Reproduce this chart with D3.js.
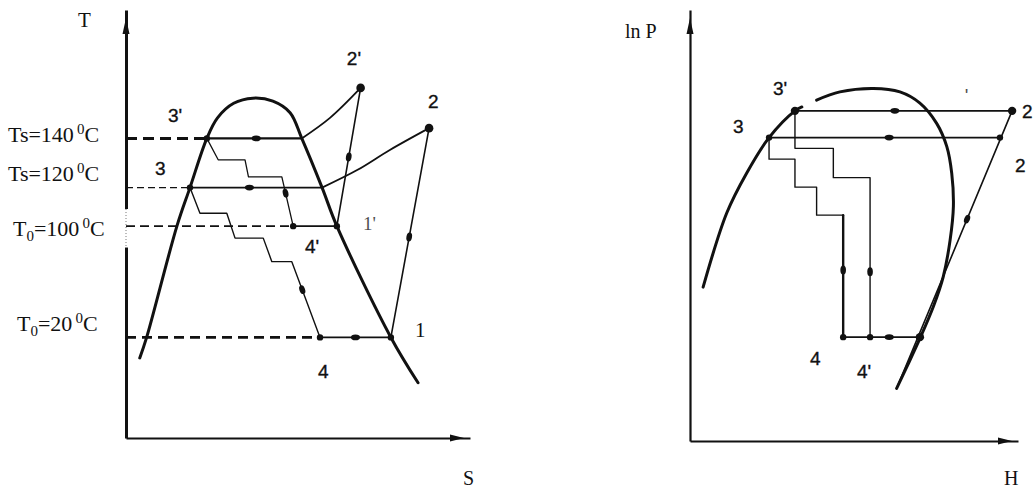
<!DOCTYPE html>
<html>
<head>
<meta charset="utf-8">
<script src="https://cdn.jsdelivr.net/npm/d3@7"></script>
<style>
  body { margin: 0; background: #fff; }
  svg { display: block; }
  text { fill: #111; }
</style>
</head>
<body>
<div id="chart"></div>
<script>
// ---- T-S diagram (schematic units 0..100 on both axes) ----
const tsLevels = [70, 58.5, 49.5, 23.5];
const tsLevelNames = [["Ts", "140"], ["Ts", "120"], ["T0", "100"], ["T0", "20"]];
const tsDashEnds = [23.5, 18.6, 48.6, 56.4];
const tsDome = [[4, 18.7], [6, 23.5], [14.8, 49.5], [18.6, 58.5], [23.5, 70], [26.6, 74.8], [31.3, 78.2],
  [36.9, 79.4], [42.7, 78.7], [47.7, 76.0], [51.1, 70], [57, 58.5], [61.3, 49.5], [77, 23.5], [84.9, 12.9]];
const tsSuper2p = [[51.1, 70], [59.3, 74.8], [68.2, 81.8]];
const tsSuper2 = [[57, 58.5], [67.2, 62.6], [76.7, 67.3], [88.1, 72.4]];
const tsComp = [[[61.3, 49.5], [68.2, 81.8]], [[77, 23.5], [88.1, 72.4]]];
const tsIso = [[[23.5, 70], [51.1, 70]], [[18.6, 58.5], [57, 58.5]], [[48.6, 49.5], [61.3, 49.5]], [[56.4, 23.5], [77, 23.5]]];
const tsStair3p = [[23.5, 70], [26.8, 65], [34.6, 65], [35.6, 61], [45.3, 61], [48.6, 49.5]];
const tsStair3 = [[18.6, 58.5], [21.5, 52.5], [29.3, 52.5], [31.7, 46.7], [39.9, 46.7], [42.4, 41.2], [48.2, 41.2], [56.4, 23.5]];
const tsPoints = [[23.5, 70], [18.6, 58.5], [77, 23.5], [56.4, 23.5], [48.6, 49.5], [61.3, 49.5]];
const tsEnds = [[68.2, 81.8], [88.1, 72.4]];
// arrow beads: segment start, segment end, fraction along it
const tsMarks = [
  [[23.5, 70], [51.1, 70], 0.52], [[18.6, 58.5], [57, 58.5], 0.45], [[56.4, 23.5], [77, 23.5], 0.5],
  [[61.3, 49.5], [68.2, 81.8], 0.5], [[77, 23.5], [88.1, 72.4], 0.48],
  [[45.3, 61], [48.6, 49.5], 0.33], [[48.2, 41.2], [56.4, 23.5], 0.37]];
const tsLabels = [
  { t: "2'", u: 64.2, v: 87.1 }, { t: "2", u: 87.8, v: 77.1 }, { t: "3'", u: 12.2, v: 73.8 },
  { t: "3", u: 8.4, v: 61.4 }, { t: "4'", u: 52.0, v: 43.2 }, { t: "4", u: 55.8, v: 14.0 },
  { t: "1'", u: 68.9, v: 48.6 }];

// ---- lnP-H diagram ----
const phLevels = [76.6, 70.4, 24.1];
const phLiquid = [[4, 35.7], [11.2, 52.9], [17.3, 62.2], [24.1, 70.4], [32, 76.6], [34.1, 77.5]];
const phVapor = [[38.6, 79.1], [45.7, 81.0], [55.9, 81.8], [64, 81], [70.1, 78.4], [75.2, 73.7], [78.3, 68.3],
  [79.8, 62.1], [80.3, 54.4], [79.3, 46.6], [77.2, 38.1], [74.2, 31.2], [70.1, 23.8], [66.1, 17.2], [63, 12.2]];
const phComp = [[63, 12.2], [98.2, 76.6]];
const phIso = [[[32, 76.6], [98.2, 76.6]], [[24.1, 70.4], [94.5, 70.4]], [[46.7, 24.1], [70.1, 24.1]]];
const phStair3p = [[32, 76.6], [32, 67.9], [43.7, 67.9], [43.7, 61.1], [54.9, 61.1], [54.9, 24.1]];
const phStair3 = [[24.1, 70.4], [24.1, 65.4], [32, 65.4], [32, 58.9], [38.6, 58.9], [38.6, 52.4], [46.7, 52.4], [46.7, 24.1]];
const phPoints = [[24.1, 70.4], [94.5, 70.4], [46.7, 24.1], [54.9, 24.1]];
const phEnds = [[32, 76.6], [98.2, 76.6], [70.1, 24.1]];
const phMarks = [
  [[32, 76.6], [98.2, 76.6], 0.46], [[24.1, 70.4], [94.5, 70.4], 0.52], [[46.7, 24.1], [70.1, 24.1], 0.6],
  [[63, 12.2], [98.2, 76.6], 0.61], [[54.9, 61.1], [54.9, 24.1], 0.59], [[46.7, 52.4], [46.7, 24.1], 0.45]];
const phLabels = [
  { t: "3'", u: 25.3, v: 80.3 }, { t: "3", u: 13.1, v: 71.5 }, { t: "2", u: 101.2, v: 74.9 },
  { t: "2", u: 99.1, v: 62.4 }, { t: "4", u: 36.6, v: 17.6 }, { t: "4'", u: 50.9, v: 14.6 },
  { t: "'", u: 83.8, v: 78.7 }];

const W = 1035, H = 491;
const serif = "'Liberation Serif', 'Times New Roman', serif";
const sans = "'Liberation Sans', Arial, sans-serif";

const svg = d3.select('#chart').append('svg').attr('width', W).attr('height', H);

const xL = d3.scaleLinear().domain([0, 100]).range([126, 470]);
const yL = d3.scaleLinear().domain([0, 100]).range([438, 10]);
const xR = d3.scaleLinear().domain([0, 100]).range([690, 1018]);
const yR = d3.scaleLinear().domain([0, 100]).range([441, 10]);

function path(g, pts, x, y, w, curve) {
  const line = d3.line().x(d => x(d[0])).y(d => y(d[1])).curve(curve || d3.curveLinear);
  return g.append('path').attr('d', line(pts)).attr('fill', 'none')
    .attr('stroke', '#111').attr('stroke-width', w)
    .attr('stroke-linejoin', 'round').attr('stroke-linecap', 'round');
}

function bead(g, x, y, m) {
  const [p, q, t] = m;
  const x1 = x(p[0]), y1 = y(p[1]), x2 = x(q[0]), y2 = y(q[1]);
  const cx = x1 + (x2 - x1) * t, cy = y1 + (y2 - y1) * t;
  const ang = Math.atan2(y2 - y1, x2 - x1) * 180 / Math.PI;
  g.append('ellipse').attr('cx', cx).attr('cy', cy).attr('rx', 4.5).attr('ry', 2.8)
    .attr('transform', `rotate(${ang},${cx},${cy})`).attr('fill', '#111');
}

function axes(g, x, y, wy, wx) {
  const ax = g.append('g').attr('transform', `translate(0,${y(0)})`)
    .call(d3.axisBottom(x).tickValues([]).tickSizeOuter(0));
  ax.select('.domain').attr('stroke', '#111').attr('stroke-width', wx);
  const ay = g.append('g').attr('transform', `translate(${x(0)},0)`)
    .call(d3.axisLeft(y).tickValues([]).tickSizeOuter(0));
  ay.select('.domain').attr('stroke', '#111').attr('stroke-width', wy);
  // arrow heads
  const x0 = x(0), yTop = y(100), y0 = y(0), xEnd = x(100);
  g.append('path').attr('d', `M${x0},${yTop + 8} L${x0 - 3.5},${yTop + 24} L${x0 + 3.5},${yTop + 24} Z`).attr('fill', '#111');
  g.append('path').attr('d', `M${xEnd - 6},${y0} L${xEnd - 20},${y0 - 3.5} L${xEnd - 20},${y0 + 3.5} Z`).attr('fill', '#111');
}

function labels(g, arr, x, y, size) {
  arr.forEach(d => {
    const faint = d.t === "1'" || d.t === "'";
    g.append('text').attr('x', x(d.u)).attr('y', y(d.v))
      .attr('font-family', d.t === "1'" ? serif : sans).attr('font-size', size)
      .attr('stroke', faint ? 'none' : '#111').attr('stroke-width', 0.35)
      .attr('opacity', faint ? 0.75 : 1)
      .text(d.t);
  });
}

// ================= Left: T-S =================
const gL = svg.append('g');
axes(gL, xL, yL, 3, 2);
// scan gap on the T axis
gL.append('rect').attr('x', 123).attr('y', yL(53.5)).attr('width', 6).attr('height', yL(44.5) - yL(53.5)).attr('fill', '#fff');
gL.append('line').attr('x1', 126).attr('x2', 126).attr('y1', yL(53.5)).attr('y2', yL(44.5))
  .attr('stroke', '#777').attr('stroke-width', 1).attr('stroke-dasharray', '1,2');

gL.append('text').attr('x', xL(0) - 48).attr('y', 27).attr('font-family', serif).attr('font-size', 21).text('T');
gL.append('text').attr('x', xL(98)).attr('y', 485).attr('font-family', serif).attr('font-size', 20).text('S');

// dashed temperature levels
const dashW = [3, 1.2, 1.6, 2.6], dashA = ['11,6', '7,4', '9,5', '10,6'];
tsLevels.forEach((v, i) => {
  gL.append('line').attr('x1', xL(0)).attr('x2', xL(tsDashEnds[i])).attr('y1', yL(v)).attr('y2', yL(v))
    .attr('stroke', '#111').attr('stroke-width', dashW[i]).attr('stroke-dasharray', dashA[i]);
});

// temperature labels
const labDy = [4, -7, 10, -6], labX = [8, 8, 13, 17];
tsLevels.forEach((v, i) => {
  const [name, val] = tsLevelNames[i];
  const t = gL.append('text').attr('x', labX[i]).attr('y', yL(v) + labDy[i])
    .attr('font-family', serif).attr('font-size', 22);
  if (name === 'T0') {
    t.append('tspan').text('T');
    t.append('tspan').attr('dy', 5).attr('font-size', 15).text('0');
    t.append('tspan').attr('dy', -5).text('=' + val);
  } else {
    t.append('tspan').text('Ts=' + val);
  }
  t.append('tspan').attr('dx', 3).attr('dy', -8).attr('font-size', 15).text('0');
  t.append('tspan').attr('dy', 8).text('C');
});

path(gL, tsDome, xL, yL, 3, d3.curveCatmullRom);
path(gL, tsSuper2p, xL, yL, 1.8, d3.curveCatmullRom);
path(gL, tsSuper2, xL, yL, 1.8, d3.curveCatmullRom);
tsComp.forEach(s => path(gL, s, xL, yL, 1.6));
const isoW = [2.4, 1.6, 1.6, 1.8];
tsIso.forEach((s, i) => path(gL, s, xL, yL, isoW[i]));
path(gL, tsStair3p, xL, yL, 1.3);
path(gL, tsStair3, xL, yL, 1.4);
tsPoints.forEach(p => gL.append('circle').attr('cx', xL(p[0])).attr('cy', yL(p[1])).attr('r', 3.2).attr('fill', '#111'));
tsEnds.forEach(p => gL.append('circle').attr('cx', xL(p[0])).attr('cy', yL(p[1])).attr('r', 4.3).attr('fill', '#111'));
tsMarks.forEach(m => bead(gL, xL, yL, m));
labels(gL, tsLabels, xL, yL, 19);
gL.append('text').attr('x', xL(84)).attr('y', yL(23.6)).attr('font-family', serif).attr('font-size', 21).text('1');

// ================= Right: lnP-H =================
const gR = svg.append('g');
axes(gR, xR, yR, 2.2, 2);
gR.append('text').attr('x', 625).attr('y', 38).attr('font-family', serif).attr('font-size', 20).text('ln P');
gR.append('text').attr('x', 1004).attr('y', 485).attr('font-family', serif).attr('font-size', 20).text('H');

path(gR, phLiquid, xR, yR, 3, d3.curveCatmullRom);
path(gR, phVapor, xR, yR, 3, d3.curveCatmullRom);
path(gR, phComp, xR, yR, 1.6);
const phIsoW = [1.8, 1.8, 1.8];
phIso.forEach((s, i) => path(gR, s, xR, yR, phIsoW[i]));
path(gR, phStair3p, xR, yR, 1.4);
path(gR, phStair3, xR, yR, 1.4);
// heavier throttling leg
path(gR, [phStair3[6], phStair3[7]], xR, yR, 2.4);
phPoints.forEach(p => gR.append('circle').attr('cx', xR(p[0])).attr('cy', yR(p[1])).attr('r', 3.2).attr('fill', '#111'));
phEnds.forEach(p => gR.append('circle').attr('cx', xR(p[0])).attr('cy', yR(p[1])).attr('r', 4.2).attr('fill', '#111'));
phMarks.forEach(m => bead(gR, xR, yR, m));
labels(gR, phLabels, xR, yR, 19);
</script>
</body>
</html>
